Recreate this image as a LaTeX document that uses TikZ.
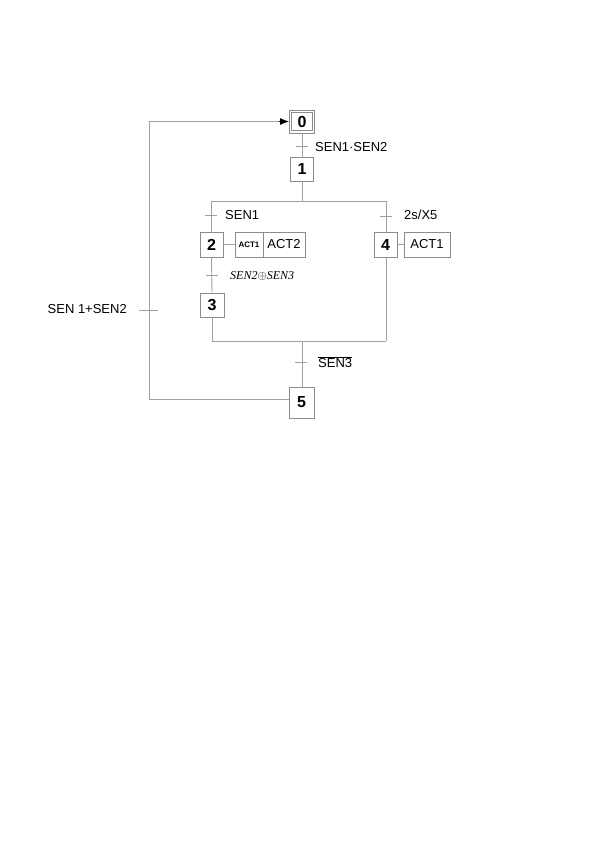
\documentclass[tikz,border=0pt]{standalone}
\usepackage{fontspec}
\setmainfont{Liberation Sans}
\newfontfamily\serifit{Liberation Serif}
\usetikzlibrary{arrows.meta}
\definecolor{lgray}{RGB}{160,160,160}
\definecolor{bgray}{RGB}{140,140,140}
\tikzset{
  stepbox/.style={draw=bgray, line width=0.9pt, inner sep=0pt, minimum width=24pt, minimum height=24pt,
    font=\fontsize{16}{16}\selectfont\bfseries, fill=white},
  actbox/.style={draw=bgray, line width=0.9pt, inner sep=0pt, minimum height=25pt,
    font=\fontsize{13}{13}\selectfont},
  conn/.style={draw=lgray, line width=0.9pt},
  lbl/.style={font=\fontsize{13}{13}\selectfont, inner sep=0pt, anchor=west},
}
\begin{document}
\begin{tikzpicture}[x=1pt,y=-1pt]
\useasboundingbox (0,0) rectangle (599,848);
% steps
\node[stepbox, minimum width=25pt, minimum height=23pt] (s0) at (302,121.5) {0};
\draw[draw=bgray, line width=0.9pt] ([shift={(2.5,2.5)}]s0.north west) rectangle ([shift={(-2.5,-2.5)}]s0.south east);
\node[stepbox, minimum width=23pt] (s1) at (302,169) {1};
\node[stepbox, minimum width=23pt, minimum height=25pt] (s2) at (211.5,244.5) {2};
\node[stepbox] (s3) at (212,305) {3};
\node[stepbox, minimum width=23pt, minimum height=25pt] (s4) at (385.5,244.5) {4};
\node[stepbox, minimum width=25pt, minimum height=31pt] (s5) at (301.5,402.5) {5};
% actions
\node[actbox, minimum width=28pt, font=\fontsize{8}{8}\selectfont\bfseries] (a1) at (249,244.5) {ACT1};
\node[actbox, minimum width=42pt] (a2) at (284,244.5) {ACT2};
\node[actbox, minimum width=46pt] (a3) at (427,244.5) {ACT1};
% coordinates
\coordinate (dL) at (211,201);
\coordinate (dR) at (386,201);
\coordinate (dM) at (302,201);
\coordinate (cL) at (212,341);
\coordinate (cR) at (386,341);
\coordinate (cM) at (302,341);
\coordinate (lb) at (149,399);
\coordinate (lt) at (149,121.5);
% connectors
\draw[conn] (s0.south) -- (s1.north);
\draw[conn] (s1.south) -- (dM);
\draw[conn] (dL) -- (dR);
\draw[conn] (dL) -- (dL |- s2.north);
\draw[conn] (dR) -- (dR |- s4.north);
\draw[conn] (s2.east) -- (a1.west);
\draw[conn] (s4.east) -- (a3.west);
\draw[conn] (s2.south) -- (s3.north);
\draw[conn] (s3.south) -- (cL);
\draw[conn] (cL) -- (cR);
\draw[conn] (s4.south -| cR) -- (cR);
\draw[conn] (cM) -- (s5.north -| cM);
\draw[conn] (s5.west |- lb) -- (lb) -- (lt);
\draw[conn, draw=black, -{Latex[length=9pt,width=7pt]}] (lt) -- (s0.west);
\draw[conn, draw=lgray] (lt) -- ([xshift=-10pt]s0.west);
% transitions
\coordinate (t0) at (302,146);
\draw[conn] ([xshift=-6pt]t0) -- ([xshift=6pt]t0);
\node[lbl] (l0) at (315,147) {SEN1·SEN2};
\coordinate (t1) at (211,215);
\draw[conn] ([xshift=-6pt]t1) -- ([xshift=6pt]t1);
\node[lbl] (l1) at (225,215) {SEN1};
\coordinate (t2) at (386,216);
\draw[conn] ([xshift=-6pt]t2) -- ([xshift=6pt]t2);
\node[lbl] (l2) at (404,215) {2s/X5};
\coordinate (t3) at (212,275);
\draw[conn] ([xshift=-6pt]t3) -- ([xshift=6pt]t3);
\node[lbl, font=\fontsize{12}{12}\selectfont] (l3) at (230,276) {\serifit\itshape SEN2$\oplus$SEN3};
\coordinate (t4) at (302,362);
\draw[conn] ([xshift=-7pt]t4) -- ([xshift=5pt]t4);
\node[lbl] (l4) at (318,362) {$\overline{\hbox{\fontsize{13}{13}\selectfont SEN3}}$};
\coordinate (t5) at (149,310);
\draw[conn] ([xshift=-10pt]t5) -- ([xshift=9pt]t5);
\node[lbl, anchor=east] (l5) at (127,309) {SEN 1+SEN2};
\end{tikzpicture}
\end{document}
